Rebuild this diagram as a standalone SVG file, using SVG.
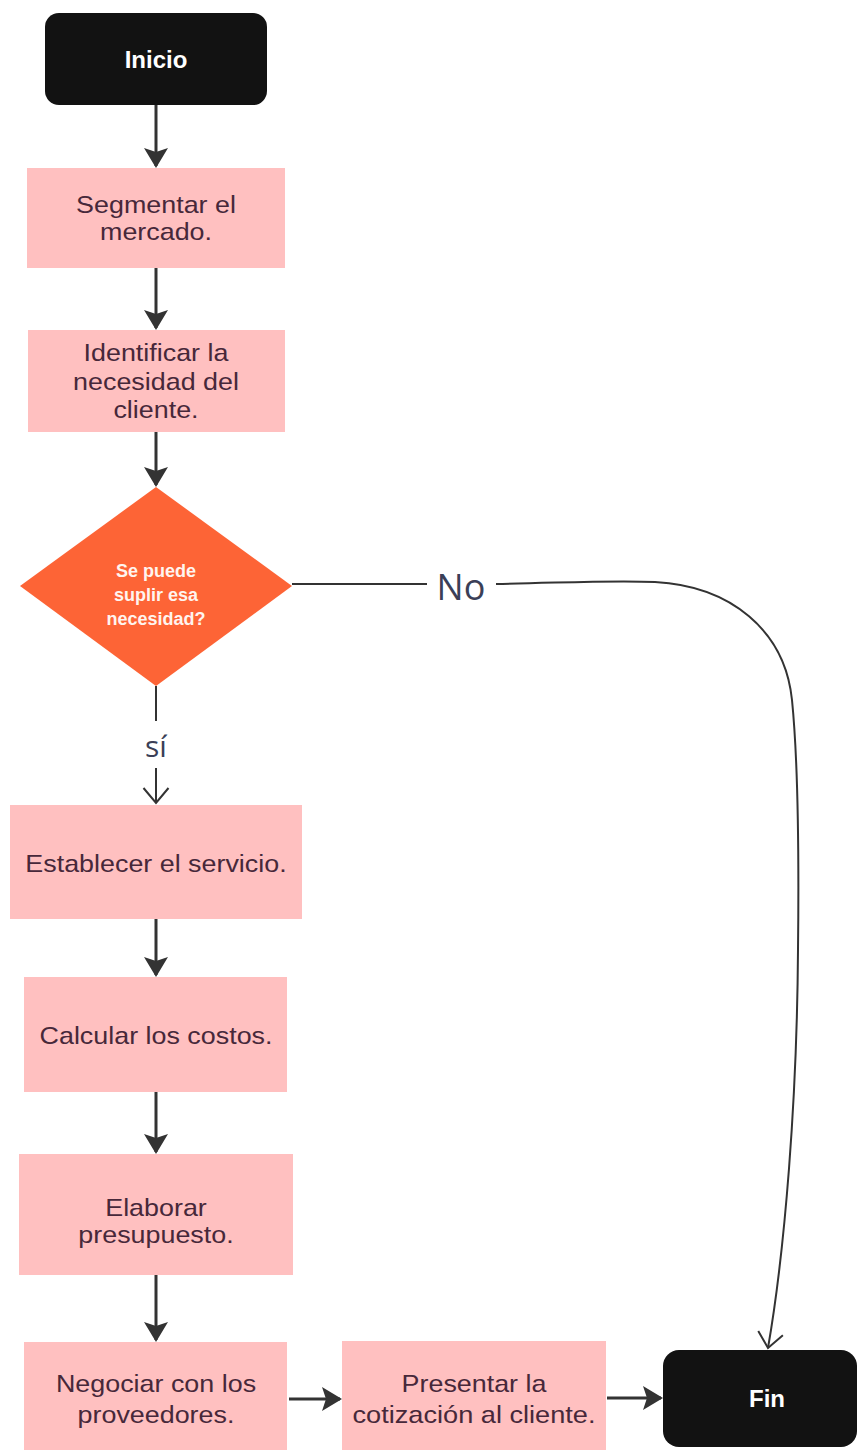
<svg xmlns="http://www.w3.org/2000/svg" width="862" height="1450" viewBox="0 0 862 1450">
  <style>
    .term { fill: #121212; }
    .step { fill: #ffc0c0; }
    .decision { fill: #fd6436; }
    .tterm { font-family: "Liberation Sans", Arial, sans-serif; font-weight: 700; font-size: 24px; fill: #ffffff; text-anchor: middle; }
    .tstep { font-family: "Liberation Sans", Arial, sans-serif; font-size: 24px; fill: #47283a; text-anchor: middle; }
    .tdec { font-family: "Liberation Sans", Arial, sans-serif; font-weight: 700; font-size: 18px; fill: #fff4ef; text-anchor: middle; }
    .lbl { font-family: "Open Sans", "Liberation Sans", sans-serif; fill: #3b3f57; text-anchor: middle; }
    .flow { stroke: #333333; stroke-width: 3; fill: none; marker-end: url(#solid); }
    .thin { stroke: #333333; stroke-width: 2; fill: none; }
  </style>
  <defs>
    <marker id="solid" markerUnits="userSpaceOnUse" markerWidth="20" markerHeight="24" viewBox="0 0 20 24" refX="18" refY="12" orient="auto">
      <path d="M0,0 L20,12 L0,24 L4,12 Z" fill="#333333"/>
    </marker>
    <marker id="open" markerUnits="userSpaceOnUse" markerWidth="18" markerHeight="28" viewBox="0 0 18 28" refX="16" refY="14" orient="auto">
      <path d="M1,1.5 L16,14 L1,26.5" fill="none" stroke="#333333" stroke-width="2"/>
    </marker>
  </defs>

  <rect width="862" height="1450" fill="#ffffff"/>

  <!-- connectors -->
  <g id="connectors">
    <line class="flow" x1="156" y1="105" x2="156" y2="166"/>
    <line class="flow" x1="156" y1="268" x2="156" y2="328"/>
    <line class="flow" x1="156" y1="432" x2="156" y2="485"/>
    <line class="thin" x1="156" y1="686" x2="156" y2="721"/>
    <text class="lbl" x="156" y="757" font-size="30">sí</text>
    <line class="thin" x1="156" y1="768" x2="156" y2="803" marker-end="url(#open)"/>
    <line class="flow" x1="156" y1="919" x2="156" y2="975"/>
    <line class="flow" x1="156" y1="1092" x2="156" y2="1152"/>
    <line class="flow" x1="156" y1="1275" x2="156" y2="1340"/>
    <line class="flow" x1="289" y1="1399" x2="340" y2="1399"/>
    <line class="flow" x1="607" y1="1398" x2="661" y2="1398"/>
    <line class="thin" x1="292" y1="584" x2="427" y2="584"/>
    <text class="lbl" x="461" y="600" font-size="36">No</text>
    <path class="thin" d="M496,584 C560,583 610,580 655,582 C730,586 785,630 792,700 C798,760 799,860 798,950 C797,1100 785,1250 768,1348" marker-end="url(#open)"/>
  </g>

  <g id="inicio">
    <rect class="term" x="45" y="13" width="222" height="92" rx="14"/>
    <text class="tterm" x="156" y="68">Inicio</text>
  </g>

  <g id="segmentar">
    <rect class="step" x="27" y="168" width="258" height="100"/>
    <g transform="translate(156 0) scale(1.12 1)">
      <text class="tstep" x="0" y="213">Segmentar el</text>
      <text class="tstep" x="0" y="240">mercado.</text>
    </g>
  </g>

  <g id="identificar">
    <rect class="step" x="28" y="330" width="257" height="102"/>
    <g transform="translate(156 0) scale(1.12 1)">
      <text class="tstep" x="0" y="361">Identificar la</text>
      <text class="tstep" x="0" y="390">necesidad del</text>
      <text class="tstep" x="0" y="418">cliente.</text>
    </g>
  </g>

  <g id="decision">
    <polygon class="decision" points="156,487 292,586 156,686 20,586"/>
    <text class="tdec" x="156" y="577">Se puede</text>
    <text class="tdec" x="156" y="601">suplir esa</text>
    <text class="tdec" x="156" y="625">necesidad?</text>
  </g>

  <g id="establecer">
    <rect class="step" x="10" y="805" width="292" height="114"/>
    <g transform="translate(156 0) scale(1.12 1)">
      <text class="tstep" x="0" y="872">Establecer el servicio.</text>
    </g>
  </g>

  <g id="calcular">
    <rect class="step" x="24" y="977" width="263" height="115"/>
    <g transform="translate(156 0) scale(1.12 1)">
      <text class="tstep" x="0" y="1044">Calcular los costos.</text>
    </g>
  </g>

  <g id="elaborar">
    <rect class="step" x="19" y="1154" width="274" height="121"/>
    <g transform="translate(156 0) scale(1.12 1)">
      <text class="tstep" x="0" y="1216">Elaborar</text>
      <text class="tstep" x="0" y="1243">presupuesto.</text>
    </g>
  </g>

  <g id="negociar">
    <rect class="step" x="24" y="1342" width="263" height="108"/>
    <g transform="translate(156 0) scale(1.12 1)">
      <text class="tstep" x="0" y="1392">Negociar con los</text>
      <text class="tstep" x="0" y="1423">proveedores.</text>
    </g>
  </g>

  <g id="presentar">
    <rect class="step" x="342" y="1341" width="264" height="109"/>
    <g transform="translate(474 0) scale(1.12 1)">
      <text class="tstep" x="0" y="1392">Presentar la</text>
      <text class="tstep" x="0" y="1423" textLength="217" lengthAdjust="spacingAndGlyphs">cotización al cliente.</text>
    </g>
  </g>

  <g id="fin">
    <rect class="term" x="663" y="1350" width="194" height="97" rx="16"/>
    <text class="tterm" x="767" y="1407">Fin</text>
  </g>
</svg>
